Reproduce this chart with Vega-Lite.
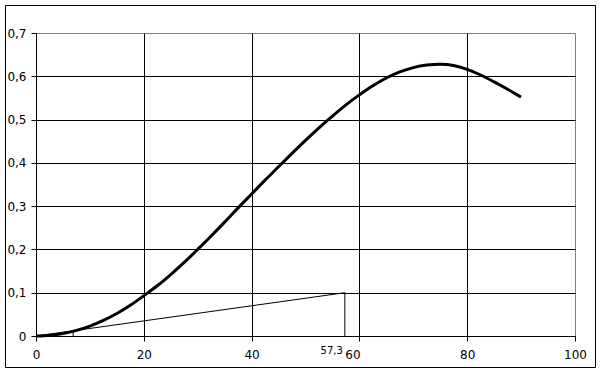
{
  "$schema": "https://vega.github.io/schema/vega-lite/v6.json",
  "width": 539,
  "height": 303,
  "autosize": "none",
  "padding": {"left": 36, "top": 33, "right": 26, "bottom": 37},
  "background": "white",
  "config": {"view": {"stroke": "#808080", "strokeWidth": 1}, "font": "DejaVu Sans"},
  "datasets": {
    "curve": [
      {"x": 0, "y": 0}, {"x": 2.5, "y": 0.002}, {"x": 5, "y": 0.006}, {"x": 7.5, "y": 0.013},
      {"x": 10, "y": 0.023}, {"x": 12.5, "y": 0.036}, {"x": 15, "y": 0.052}, {"x": 17.5, "y": 0.071},
      {"x": 20, "y": 0.093}, {"x": 22.5, "y": 0.116}, {"x": 25, "y": 0.142}, {"x": 27.5, "y": 0.17},
      {"x": 30, "y": 0.2}, {"x": 32.5, "y": 0.231}, {"x": 35, "y": 0.263}, {"x": 37.5, "y": 0.296},
      {"x": 40, "y": 0.328}, {"x": 42.5, "y": 0.36}, {"x": 45, "y": 0.391}, {"x": 47.5, "y": 0.422},
      {"x": 50, "y": 0.452}, {"x": 52.5, "y": 0.481}, {"x": 55, "y": 0.508}, {"x": 57.5, "y": 0.534},
      {"x": 60, "y": 0.557}, {"x": 62.5, "y": 0.578}, {"x": 65, "y": 0.596}, {"x": 67.5, "y": 0.61},
      {"x": 70, "y": 0.62}, {"x": 72.5, "y": 0.626}, {"x": 75, "y": 0.628}, {"x": 77.5, "y": 0.625},
      {"x": 80, "y": 0.616}, {"x": 82.5, "y": 0.603}, {"x": 85, "y": 0.587}, {"x": 87.5, "y": 0.57},
      {"x": 90, "y": 0.552}
    ],
    "construction": [
      {"x": 0, "y": 0, "x2": 57.3, "y2": 0.1},
      {"x": 57.3, "y": 0, "x2": 57.3, "y2": 0.1},
      {"x": 6.9, "y": 0, "x2": 6.9, "y2": 0.012}
    ],
    "annot": [{"x": 57.3, "y": 0, "label": "57,3"}],
    "frame": [{}]
  },
  "layer": [
    {
      "data": {"name": "curve"},
      "mark": {"type": "line", "color": "black", "strokeWidth": 3, "interpolate": "monotone"},
      "encoding": {
        "x": {
          "field": "x", "type": "quantitative",
          "scale": {"domain": [0, 100], "nice": false, "zero": false},
          "axis": {
            "values": [0, 20, 40, 60, 80, 100],
            "grid": true, "gridColor": "black",
            "gridOpacity": {"condition": {"test": "datum.value == 100", "value": 0}, "value": 1},
            "domainColor": "black", "tickColor": "black", "tickSize": 5,
            "labelColor": "black", "labelFontSize": 12, "labelFont": "DejaVu Sans",
            "labelPadding": 8, "labelFlush": false, "labelOverlap": false,
            "labelOffset": {"condition": {"test": "datum.value == 60", "value": -7}, "value": 0},
            "title": null
          }
        },
        "y": {
          "field": "y", "type": "quantitative",
          "scale": {"domain": [0, 0.7], "nice": false},
          "axis": {
            "values": [0, 0.1, 0.2, 0.3, 0.4, 0.5, 0.6, 0.7],
            "grid": true, "gridColor": "black",
            "gridOpacity": {"condition": {"test": "datum.value > 0.69", "value": 0}, "value": 1},
            "domainColor": "black", "tickColor": "black", "tickSize": 5,
            "labelColor": "black", "labelFontSize": 12, "labelFont": "DejaVu Sans",
            "labelPadding": 5, "labelFlush": false, "labelOverlap": false,
            "labelExpr": "datum.value == 0 ? '0' : replace(format(datum.value, '.1f'), '.', ',')",
            "title": null
          }
        }
      }
    },
    {
      "data": {"name": "construction"},
      "mark": {"type": "rule", "color": "black", "strokeWidth": 1},
      "encoding": {
        "x": {"field": "x", "type": "quantitative", "title": null},
        "y": {"field": "y", "type": "quantitative", "title": null},
        "x2": {"field": "x2"},
        "y2": {"field": "y2"}
      }
    },
    {
      "data": {"name": "annot"},
      "mark": {"type": "text", "align": "right", "baseline": "top", "dx": -2, "dy": 10, "fontSize": 10, "font": "DejaVu Sans", "color": "black"},
      "encoding": {
        "x": {"field": "x", "type": "quantitative", "title": null},
        "y": {"field": "y", "type": "quantitative", "title": null},
        "text": {"field": "label"}
      }
    },
    {
      "data": {"name": "frame"},
      "mark": {"type": "rect", "filled": false, "stroke": "black", "strokeWidth": 1},
      "encoding": {
        "x": {"value": -30.5},
        "x2": {"value": 559.5},
        "y": {"value": -27.5},
        "y2": {"value": 334.5}
      }
    }
  ]
}
